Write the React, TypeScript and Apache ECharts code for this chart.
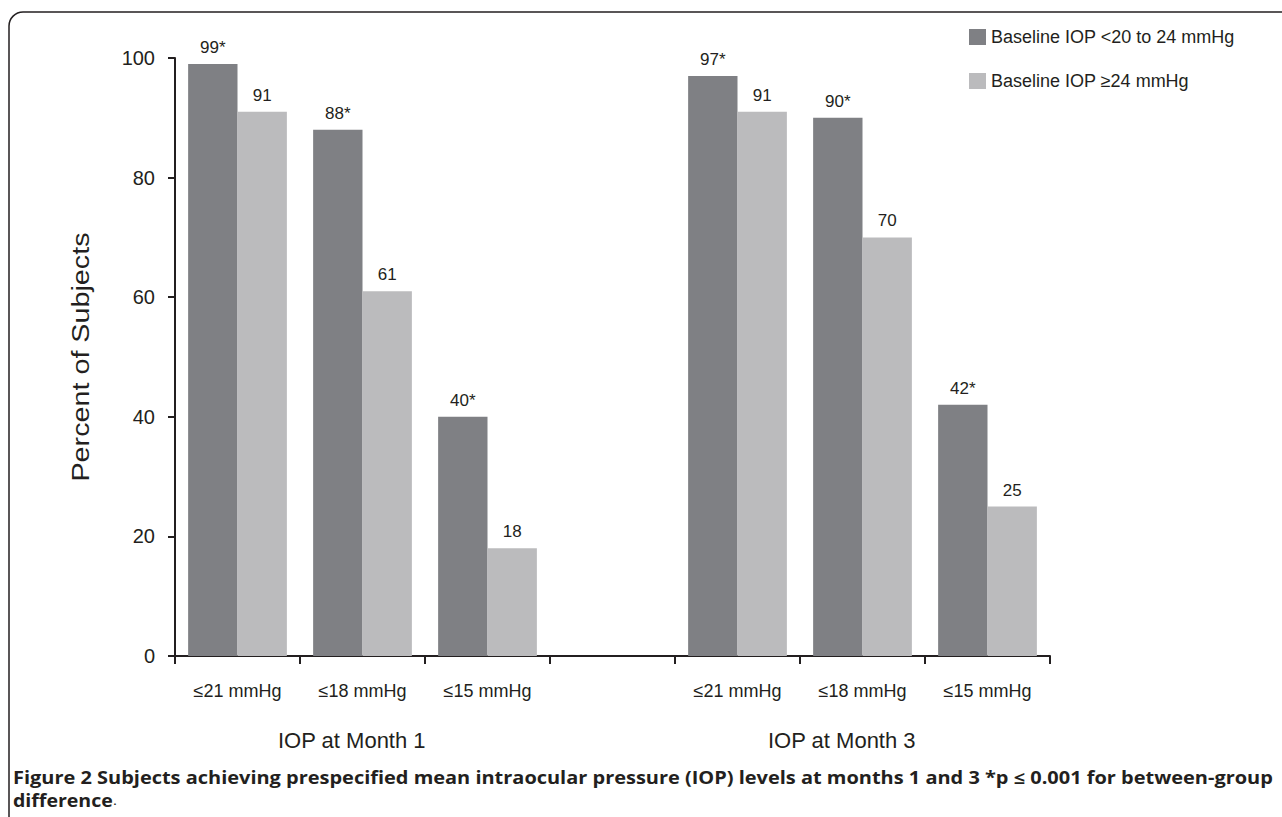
import React, { useEffect, useRef } from "react";
import * as echarts from "echarts";

const categories = ["≤21 mmHg", "≤18 mmHg", "≤15 mmHg", "", "≤21 mmHg", "≤18 mmHg", "≤15 mmHg"];
const groupLabels = ["IOP at Month 1", "IOP at Month 3"];
const seriesNames = ["Baseline IOP <20 to 24 mmHg", "Baseline IOP ≥24 mmHg"];
const baselineLow: (number | string)[] = [99, 88, 40, "-", 97, 90, 42];
const baselineHigh: (number | string)[] = [91, 61, 18, "-", 91, 70, 25];
const significant = [true, true, true, false, true, true, true];
const yTicks = [0, 20, 40, 60, 80, 100];
const captionBold =
  "Figure 2 Subjects achieving prespecified mean intraocular pressure (IOP) levels at months 1 and 3 *p ≤ 0.001 for between-group";
const captionBold2 = "difference";

const INK = "#231f20";
const DARK = "#7f8084";
const LIGHT = "#bbbbbd";
const FONT = "'Liberation Sans', Arial, sans-serif";
const CAP_FONT = "'Open Sans', sans-serif";

export default function App() {
  const ref = useRef<HTMLDivElement>(null);
  useEffect(() => {
    if (!ref.current) return;
    const chart = echarts.init(ref.current, undefined, { renderer: "svg" });
    chart.setOption({
      animation: false,
      backgroundColor: "#ffffff",
      textStyle: { fontFamily: FONT, color: INK },
      grid: { left: 175, right: 232, top: 58, bottom: 161, containLabel: false },
      legend: {
        orient: "vertical",
        left: 964,
        top: 23,
        itemWidth: 17,
        itemHeight: 16,
        itemGap: 26,
        itemStyle: { borderWidth: 0 },
        selectedMode: false,
        textStyle: { fontSize: 18, color: INK, fontFamily: FONT },
        data: [
          { name: seriesNames[0], icon: "rect" },
          { name: seriesNames[1], icon: "rect" },
        ],
      },
      xAxis: {
        type: "category",
        data: categories,
        boundaryGap: true,
        axisLine: { show: true, lineStyle: { color: INK, width: 2 } },
        axisTick: { show: true, length: 8, lineStyle: { color: INK, width: 2 } },
        axisLabel: { fontSize: 18, color: INK, margin: 26, fontFamily: FONT, interval: 0 },
        splitLine: { show: false },
      },
      yAxis: {
        type: "value",
        min: yTicks[0],
        max: yTicks[yTicks.length - 1],
        interval: 20,
        axisLine: { show: true, lineStyle: { color: INK, width: 2 } },
        axisTick: { show: true, length: 7, lineStyle: { color: INK, width: 2 } },
        axisLabel: { fontSize: 20, color: INK, margin: 20, fontFamily: FONT },
        splitLine: { show: false },
      },
      series: [
        {
          name: seriesNames[0],
          type: "bar",
          data: baselineLow,
          barGap: "0%",
          barCategoryGap: "21%",
          itemStyle: { color: DARK },
          label: {
            show: true,
            position: "top",
            distance: 8,
            fontSize: 17,
            color: INK,
            fontFamily: FONT,
            formatter: (p: any) => `${p.value}${significant[p.dataIndex] ? "*" : ""}`,
          },
        },
        {
          name: seriesNames[1],
          type: "bar",
          data: baselineHigh,
          barGap: "0%",
          barCategoryGap: "21%",
          itemStyle: { color: LIGHT },
          label: {
            show: true,
            position: "top",
            distance: 8,
            fontSize: 17,
            color: INK,
            fontFamily: FONT,
          },
        },
      ],
      graphic: [
        {
          type: "rect",
          shape: { x: 9, y: 12, width: 1320, height: 840, r: 14 },
          style: { fill: "none", stroke: INK, lineWidth: 1.5 },
          silent: true,
          z: -10,
        },
        {
          type: "text",
          x: 81,
          y: 357,
          rotation: Math.PI / 2,
          scaleX: 1.25,
          style: {
            text: "Percent of Subjects",
            fontSize: 23,
            fontFamily: FONT,
            fill: INK,
            align: "center",
            verticalAlign: "middle",
          },
        },
        {
          type: "text",
          x: 278,
          y: 740,
          style: {
            text: groupLabels[0],
            fontSize: 22,
            fontFamily: FONT,
            fill: INK,
            align: "left",
            verticalAlign: "middle",
          },
        },
        {
          type: "text",
          x: 768,
          y: 740,
          style: {
            text: groupLabels[1],
            fontSize: 22,
            fontFamily: FONT,
            fill: INK,
            align: "left",
            verticalAlign: "middle",
          },
        },
        {
          type: "text",
          x: 13,
          y: 777,
          scaleX: 1.175,
          style: {
            text: captionBold,
            fontSize: 17,
            fontWeight: "bold",
            fontFamily: CAP_FONT,
            fill: INK,
            align: "left",
            verticalAlign: "middle",
          },
        },
        {
          type: "text",
          x: 13,
          y: 800,
          scaleX: 1.15,
          style: {
            text: `{b|${captionBold2}}{n|.}`,
            fontSize: 17,
            fontFamily: CAP_FONT,
            fill: INK,
            align: "left",
            verticalAlign: "middle",
            rich: {
              b: { fontSize: 17, fontWeight: "bold", fontFamily: CAP_FONT, fill: INK },
              n: { fontSize: 13, fontWeight: "normal", fontFamily: CAP_FONT, fill: INK },
            },
          },
        },
      ],
    });
    return () => chart.dispose();
  }, []);
  return (
    <div
      ref={ref}
      style={{ position: "fixed", left: 0, top: 0, width: 1282, height: 817, background: "#fff" }}
    />
  );
}
